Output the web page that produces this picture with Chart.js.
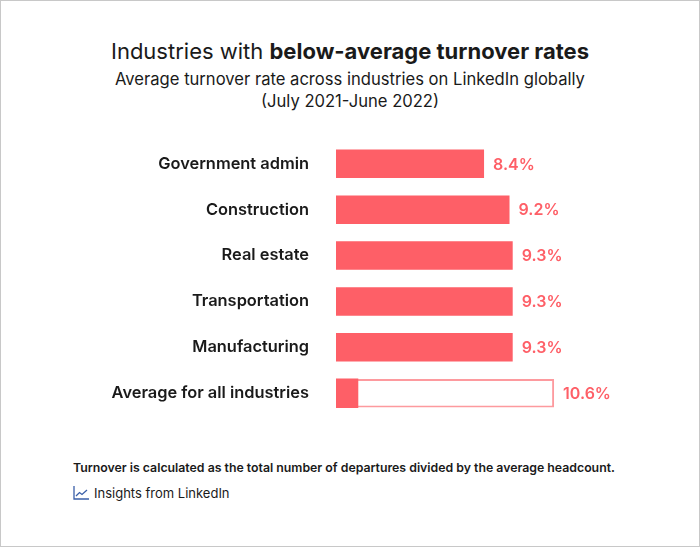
<!DOCTYPE html>
<html>
<head>
<meta charset="utf-8">
<script src="https://cdn.jsdelivr.net/npm/chart.js@4"></script>
<style>
  html, body { margin: 0; padding: 0; background: #fff; }
  #frame {
    position: relative;
    width: 698px;
    height: 545px;
    border: 1px solid #c8c8c8;
    font-family: Inter, Lato, sans-serif;
    color: #1a1a1a;
    overflow: hidden;
  }
  #title {
    position: absolute; top: 35px; left: 0; width: 100%;
    text-align: center; font-size: 22px; line-height: 30px;
  }
  #title b { font-weight: 700; }
  #sub {
    position: absolute; top: 67px; left: 0; width: 100%;
    text-align: center; font-size: 16.6px; line-height: 22px;
  }
  #chart { position: absolute; top: 130px; left: -1px; }
  #note {
    position: absolute; top: 459px; left: 72px;
    font-size: 12.3px; font-weight: 600;
  }
  #src {
    position: absolute; top: 484px; left: 72px;
    font-size: 13px; display: flex; align-items: center;
  }
  #src svg { margin-right: 5px; }
</style>
</head>
<body>
<div id="frame">
  <div id="title">Industries with <b>below-average turnover rates</b></div>
  <div id="sub">Average turnover rate across industries on LinkedIn globally<br>(July 2021-June 2022)</div>
  <canvas id="chart" width="700" height="295"></canvas>
  <div id="note">Turnover is calculated as the total number of departures divided by the average headcount.</div>
  <div id="src">
    <svg width="16" height="14" viewBox="0 0 16 14">
      <path d="M1 0 V13 H16" fill="none" stroke="#3a5fa8" stroke-width="1.3"/>
      <path d="M3 10 L6.5 6.5 L9 8.5 L14 4" fill="none" stroke="#3a5fa8" stroke-width="1.3"/>
    </svg>
    Insights from LinkedIn
  </div>
</div>

<script>
const industries = [
  "Government admin",
  "Construction",
  "Real estate",
  "Transportation",
  "Manufacturing",
  "Average for all industries",
];
const turnoverRates = [8.4, 9.2, 9.3, 9.3, 9.3, 10.6];
// small solid part inside the outlined "average" bar
const averageFill = [null, null, null, null, null, 4.45];

const red = "#fe5f67";
const lightRed = "#fd9a9e";
const last = turnoverRates.length - 1;

const valueLabels = {
  id: "valueLabels",
  afterDatasetsDraw(chart) {
    const ctx = chart.ctx;
    const meta = chart.getDatasetMeta(1);
    ctx.save();
    ctx.font = "600 16px Inter, sans-serif";
    ctx.fillStyle = red;
    ctx.textAlign = "left";
    ctx.textBaseline = "middle";
    meta.data.forEach((bar, i) => {
      ctx.fillText(turnoverRates[i].toFixed(1) + "%", bar.x + 9, bar.y + 1);
    });
    ctx.restore();
  },
};

const ctx = document.getElementById("chart").getContext("2d");
new Chart(ctx, {
  type: "bar",
  data: {
    labels: industries,
    datasets: [
      {
        label: "Fill",
        data: averageFill,
        backgroundColor: red,
        borderWidth: 0,
        grouped: false,
        order: 0,
        barPercentage: 0.64,
        categoryPercentage: 1,
      },
      {
        label: "Turnover rate",
        data: turnoverRates,
        backgroundColor: turnoverRates.map((v, i) => (i === last ? "#ffffff" : red)),
        borderColor: turnoverRates.map((v, i) => (i === last ? lightRed : red)),
        borderWidth: turnoverRates.map((v, i) => (i === last ? 2 : 0)),
        borderSkipped: false,
        grouped: false,
        order: 1,
        barPercentage: 0.62,
        categoryPercentage: 1,
      },
    ],
  },
  options: {
    indexAxis: "y",
    responsive: false,
    animation: false,
    layout: { padding: { left: 0, right: 80, top: 0, bottom: 0 } },
    scales: {
      x: {
        min: 3.75,
        max: 12.67,
        display: false,
        grid: { display: false },
      },
      y: {
        afterFit(scale) {
          scale.width = 336;
        },
        grid: {
          color: "transparent",
          tickColor: "transparent",
          drawTicks: true,
          tickLength: 27,
        },
        border: { display: false },
        ticks: {
          padding: 0,
          color: "#1a1a1a",
          font: { family: "Inter", size: 16.4, weight: "600", lineHeight: 1.2 },
        },
      },
    },
    plugins: {
      legend: { display: false },
      title: { display: false },
      tooltip: { enabled: false },
    },
  },
  plugins: [valueLabels],
});
</script>
</body>
</html>
